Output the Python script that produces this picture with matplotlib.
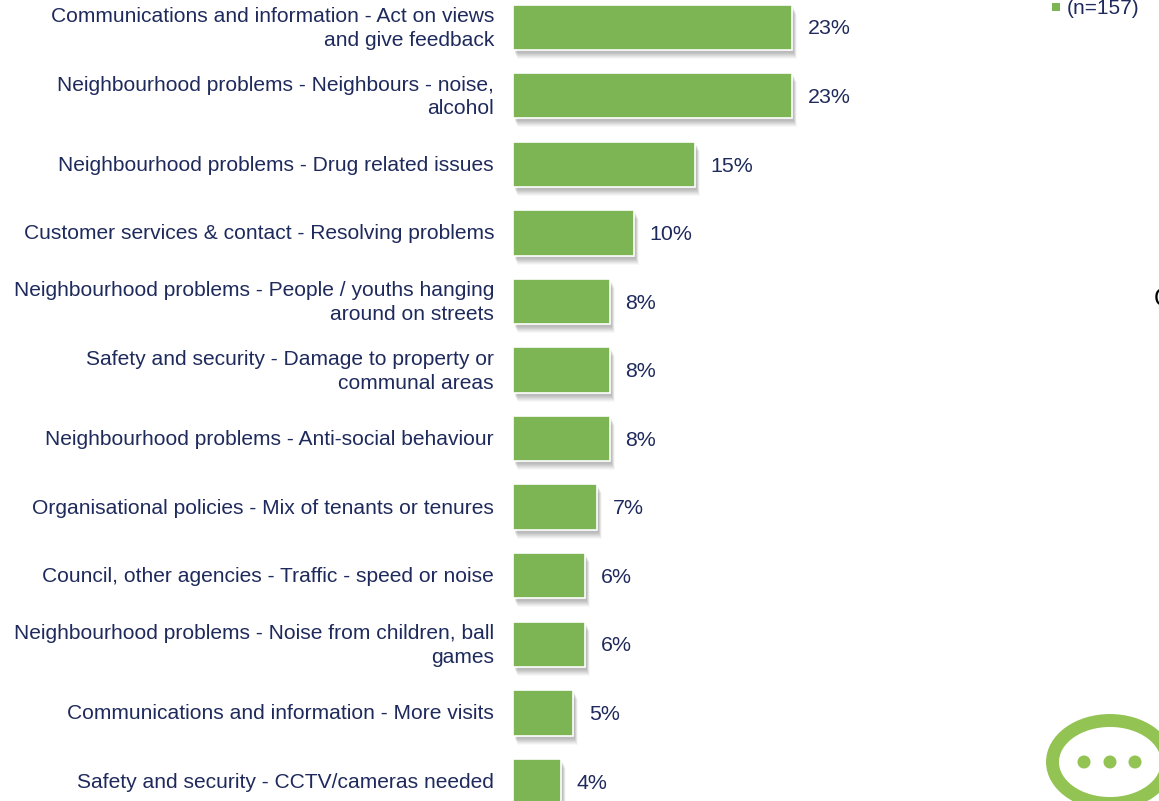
import matplotlib
matplotlib.use("Agg")
import matplotlib.pyplot as plt
import matplotlib.patheffects as pe
from matplotlib.patches import Ellipse, Circle, Rectangle

plt.rcParams['font.family'] = ['Liberation Sans', 'DejaVu Sans']

categories = [
    "Communications and information - Act on views\nand give feedback",
    "Neighbourhood problems - Neighbours - noise,\nalcohol",
    "Neighbourhood problems - Drug related issues",
    "Customer services & contact - Resolving problems",
    "Neighbourhood problems - People / youths hanging\naround on streets",
    "Safety and security - Damage to property or\ncommunal areas",
    "Neighbourhood problems - Anti-social behaviour",
    "Organisational policies - Mix of tenants or tenures",
    "Council, other agencies - Traffic - speed or noise",
    "Neighbourhood problems - Noise from children, ball\ngames",
    "Communications and information - More visits",
    "Safety and security - CCTV/cameras needed",
]
values = [23, 23, 15, 10, 8, 8, 8, 7, 6, 6, 5, 4]
legend_label = "(n=157)"

text_col = "#1f2a5c"
bar_col = "#7db555"
logo_col = "#92c353"
W, H = 1159, 801

fig = plt.figure(figsize=(W / 100, H / 100), dpi=100)

# axes start at the bar baseline, 12.14 px per percent, 68.57 px per row
left = 512.5
ax = fig.add_axes([left / W, 0, 1 - left / W, 1])
ax.set_xlim(0, (W - left) / 12.14)
ax.set_ylim((H - 27.2) / 68.57, -27.2 / 68.57)

# soft shadow, several offsets stacked to fake a blur
shadow = []
for dx, dy, a in [(5, 9, 0.04), (4, 8, 0.05), (4, 7, 0.06), (3, 6, 0.07), (3, 5, 0.08), (2, 4, 0.08), (2, 3, 0.08)]:
    shadow.append(pe.SimplePatchShadow(offset=(dx * 0.72, -dy * 0.72), shadow_rgbFace="#555555", alpha=a))
shadow.append(pe.Normal())

bars = ax.barh(range(len(values)), values, height=45.4 / 68.57, color=bar_col, edgecolor="white", linewidth=1.2)
for b in bars:
    b.set_path_effects(shadow)

for i, v in enumerate(values):
    ax.annotate(f"{v}%", (v, i), xytext=(11.3, -1.2), textcoords="offset points",
                va="center", ha="left", fontsize=15.4, color=text_col)

# category labels, two line ones sit a little higher
for i, cat in enumerate(categories):
    dy = -0.9 if "\n" in cat else -0.7
    ax.annotate(cat, (0, i), xytext=(-13.3, dy), textcoords="offset points",
                va="center", ha="right", fontsize=15.15, color=text_col, linespacing=1.31)

ax.set_yticks([])
ax.set_xticks([])
for s in ax.spines.values():
    s.set_visible(False)
ax.patch.set_alpha(0)

# overlay in pixel coordinates for the legend, logo and stray glyph
over = fig.add_axes([0, 0, 1, 1])
over.set_xlim(0, W)
over.set_ylim(H, 0)
over.axis("off")
over.patch.set_alpha(0)

over.add_patch(Rectangle((1052, 3), 8, 8, color=bar_col, lw=0))
over.text(1067, 8.5, legend_label, fontsize=15, color=text_col, va="center", ha="left")
over.text(1153.5, 299, "C", fontsize=18, color="black", va="center", ha="left")

over.add_patch(Ellipse((1110, 762), 115, 83, fill=False, edgecolor=logo_col, linewidth=9.3))
for cx in [1084, 1110, 1135]:
    over.add_patch(Circle((cx, 762), 6.5, color=logo_col, lw=0))

fig.savefig("out.png", dpi=100)
